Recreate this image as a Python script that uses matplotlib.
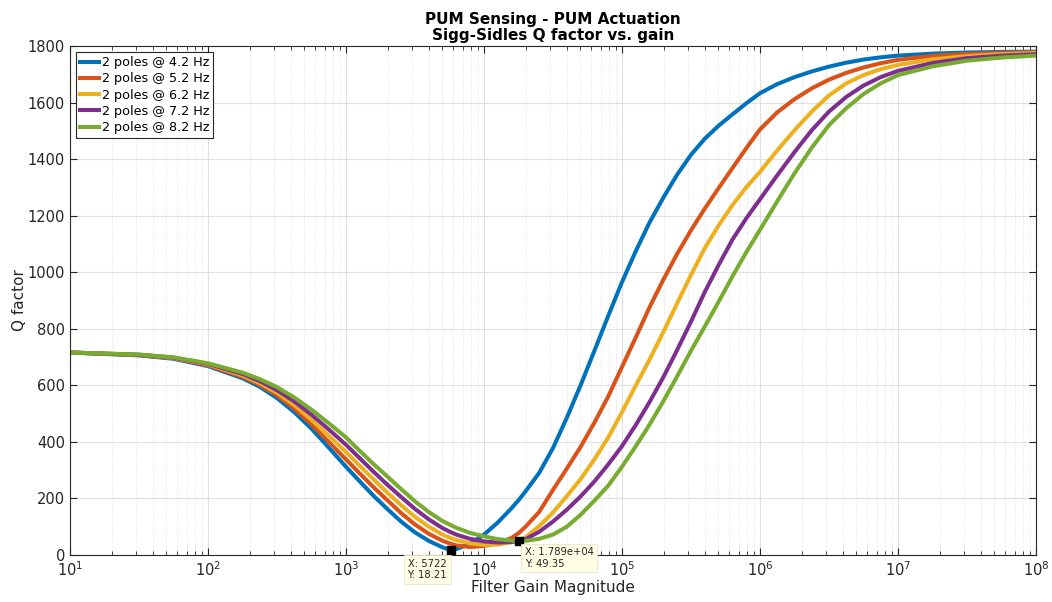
import matplotlib
matplotlib.use("Agg")
import matplotlib.pyplot as plt
from matplotlib.ticker import LogLocator, NullFormatter

# filter gain magnitude (shared x for all curves)
gain = [1.0e1, 3.16e1, 5.62e1, 1.0e2, 1.78e2, 2.37e2, 3.16e2, 4.22e2, 5.62e2, 7.5e2,
        1.0e3, 1.26e3, 1.58e3, 2.0e3, 2.51e3, 3.16e3, 3.98e3, 5.01e3, 5.722e3, 6.31e3,
        7.94e3, 1.0e4, 1.26e4, 1.58e4, 1.789e4, 2.0e4, 2.51e4, 3.16e4, 3.98e4, 5.01e4,
        6.31e4, 7.94e4, 1.0e5, 1.26e5, 1.58e5, 2.0e5, 2.51e5, 3.16e5, 3.98e5, 5.01e5,
        6.31e5, 7.94e5, 1.0e6, 1.33e6, 1.78e6, 2.37e6, 3.16e6, 4.22e6, 5.62e6, 7.5e6,
        1.0e7, 1.78e7, 3.16e7, 5.62e7, 1.0e8]

q_42 = [716, 706, 694, 668, 625, 595, 555, 505, 447, 380,
        312, 260, 210, 162, 118, 80, 50, 27, 18.2, 21,
        40, 72, 115, 165, 195, 225, 290, 378, 485, 600,
        722, 845, 965, 1075, 1175, 1265, 1345, 1415, 1472, 1518,
        1558, 1597, 1633, 1665, 1690, 1710, 1727, 1741, 1752, 1760,
        1766, 1773, 1777, 1779, 1780]
q_52 = [716, 707, 696, 671, 630, 602, 565, 518, 462, 400,
        338, 288, 240, 193, 148, 108, 75, 50, 40, 34,
        28, 32, 42, 60, 78, 100, 152, 230, 305, 382,
        468, 560, 665, 770, 875, 975, 1065, 1148, 1225, 1297,
        1368, 1438, 1505, 1565, 1612, 1650, 1681, 1705, 1724, 1739,
        1751, 1765, 1772, 1776, 1778]
q_62 = [716, 708, 697, 674, 635, 608, 574, 530, 478, 422,
        364, 315, 268, 220, 176, 135, 100, 72, 60, 53,
        41, 36, 37, 45, 52, 62, 102, 150, 208, 268,
        338, 415, 505, 600, 690, 790, 890, 990, 1085, 1165,
        1237, 1300, 1355, 1430, 1502, 1568, 1625, 1668, 1697, 1718,
        1733, 1753, 1764, 1771, 1775]
q_72 = [716, 708, 698, 676, 640, 615, 583, 543, 496, 444,
        390, 342, 295, 248, 205, 163, 126, 95, 81, 72,
        57, 48, 44, 46, 50, 56, 82, 118, 160, 207,
        260, 320, 385, 460, 540, 630, 725, 825, 930, 1025,
        1115, 1190, 1258, 1342, 1425, 1502, 1568, 1620, 1660, 1690,
        1712, 1740, 1757, 1766, 1771]
q_82 = [716, 709, 699, 678, 645, 622, 594, 557, 514, 466,
        416, 368, 322, 277, 233, 190, 152, 120, 106, 96,
        78, 66, 56, 51, 49.35, 50, 57, 72, 100, 142,
        192, 245, 312, 385, 460, 545, 632, 722, 808, 895,
        985, 1070, 1150, 1250, 1350, 1440, 1520, 1580, 1630, 1668,
        1697, 1728, 1748, 1759, 1766]

series = [q_42, q_52, q_62, q_72, q_82]
labels = ['2 poles @ 4.2 Hz', '2 poles @ 5.2 Hz', '2 poles @ 6.2 Hz',
          '2 poles @ 7.2 Hz', '2 poles @ 8.2 Hz']
colors = ['#0072BD', '#D95319', '#EDB120', '#7E2F8E', '#77AC30']

# data tips
tip_x = [5722, 1.789e4]
tip_y = [18.21, 49.35]
tip_text = ['X: 5722\nY: 18.21', 'X: 1.789e+04\nY: 49.35']

plt.rcParams['font.family'] = 'DejaVu Sans'
fig = plt.figure(figsize=(10.52, 6.02), dpi=100)
ax = fig.add_axes([0.0665, 0.0781, 0.9183, 0.8455])

for y, lab, c in zip(series, labels, colors):
    ax.plot(gain, y, color=c, lw=2.9, label=lab, solid_joinstyle='round')

ax.set_xscale('log')
ax.set_xlim(1e1, 1e8)
ax.set_ylim(0, 1800)
ax.set_yticks(range(0, 1801, 200))
ax.xaxis.set_minor_locator(LogLocator(base=10, subs=range(2, 10), numticks=20))
ax.xaxis.set_minor_formatter(NullFormatter())

ax.grid(True, which='major', color='#e0e0e0', lw=0.8)
ax.grid(True, which='minor', axis='x', color='#d8d8d8', lw=0.6, ls=':')
ax.set_axisbelow(True)

ax.tick_params(which='both', direction='in', top=True, right=True,
               colors='#262626', labelsize=10.5)
ax.tick_params(which='major', length=5)
ax.tick_params(which='minor', length=3)
for s in ax.spines.values():
    s.set_color('#262626')
    s.set_linewidth(0.8)

ax.set_xlabel('Filter Gain Magnitude', fontsize=11, color='#262626', labelpad=1)
ax.set_ylabel('Q factor', fontsize=11, color='#262626', labelpad=0.5)
ax.set_title('PUM Sensing - PUM Actuation\nSigg-Sidles Q factor vs. gain',
             fontsize=11, fontweight='bold', linespacing=1.15, pad=4)

leg = ax.legend(loc='upper left', fontsize=9.2, handlelength=1.5, handletextpad=0.2,
                borderpad=0.3, labelspacing=0.25, fancybox=False, framealpha=1,
                borderaxespad=0.5)
leg.get_frame().set_edgecolor('#262626')
leg.get_frame().set_linewidth(0.8)

offsets = [(-43, -9), (6, -6)]
for xv, yv, t, off in zip(tip_x, tip_y, tip_text, offsets):
    ax.plot([xv], [yv], marker='s', color='black', ms=5.5, zorder=5, clip_on=False)
    ax.annotate(t, xy=(xv, yv), xytext=off, textcoords='offset pixels',
                ha='left', va='top', fontsize=7.2, color='#262626',
                annotation_clip=False, zorder=6,
                bbox=dict(boxstyle='square,pad=0.35', fc='#ffffe6', ec='#e6e6c8', lw=0.6))

fig.savefig('out.png', dpi=100, facecolor='white')
